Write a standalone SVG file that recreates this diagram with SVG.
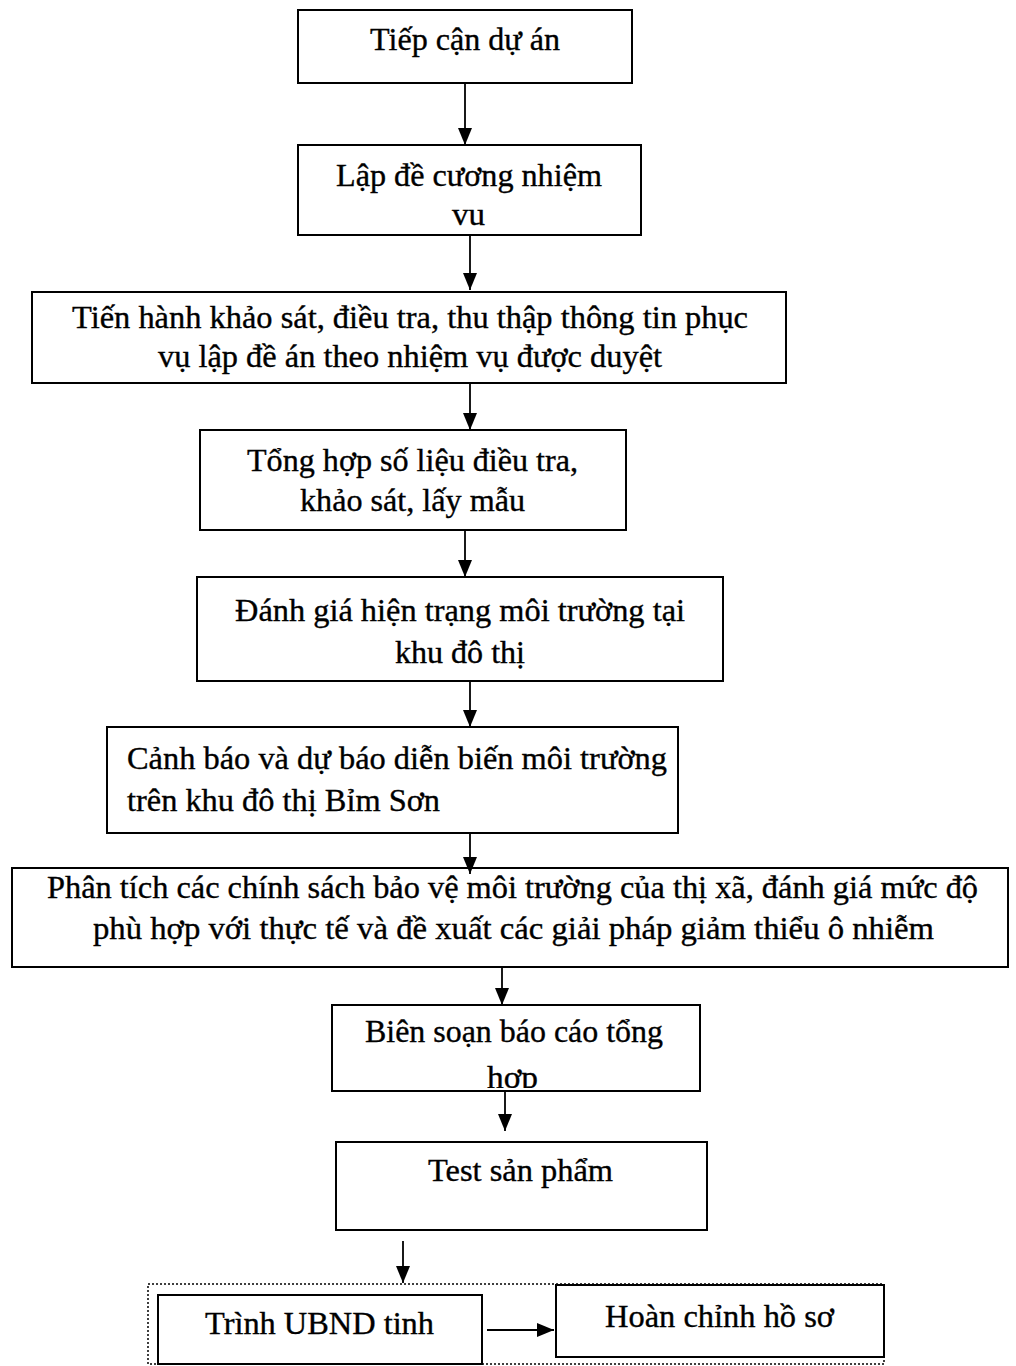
<svg xmlns="http://www.w3.org/2000/svg" width="1016" height="1366" viewBox="0 0 1016 1366">
<style>
.box{fill:#fff;stroke:#000;stroke-width:2}
.t{font-family:"Liberation Serif","DejaVu Serif",serif;font-size:31px;fill:#000;stroke:#000;stroke-width:0.35}
.con{stroke:#000;stroke-width:1.8;fill:none;marker-end:url(#ah)}
.dot{fill:none;stroke:#000;stroke-width:1.5;stroke-dasharray:2 2}
</style>
<defs>
<marker id="ah" viewBox="0 0 17 14" refX="17" refY="7" markerWidth="17" markerHeight="14" markerUnits="userSpaceOnUse" orient="auto">
<path d="M0,0 L17,7 L0,14 Z" fill="#000"/>
</marker>
<clipPath id="clip8"><rect x="333" y="1006" width="366" height="82"/></clipPath>
</defs>
<rect width="1016" height="1366" fill="#fff"/>
<rect id="group-frame" class="dot" x="148" y="1284" width="736" height="80"/>
<g id="n1"><rect class="box" x="298" y="10" width="334" height="73"/>
<text class="t" font-family="Liberation Serif, serif" x="370" y="50" textLength="190" lengthAdjust="spacingAndGlyphs">Tiếp cận dự án</text></g>
<g id="n2"><rect class="box" x="298" y="145" width="343" height="90"/>
<text class="t" font-family="Liberation Serif, serif" x="336" y="186" textLength="266" lengthAdjust="spacingAndGlyphs">Lập đề cương nhiệm</text>
<text class="t" font-family="Liberation Serif, serif" x="452" y="225" textLength="33" lengthAdjust="spacingAndGlyphs">vu</text></g>
<g id="n3"><rect class="box" x="32" y="292" width="754" height="91"/>
<text class="t" font-family="Liberation Serif, serif" x="72" y="328" textLength="676" lengthAdjust="spacingAndGlyphs">Tiến hành khảo sát, điều tra, thu thập thông tin phục</text>
<text class="t" font-family="Liberation Serif, serif" x="158" y="367" textLength="504" lengthAdjust="spacingAndGlyphs">vụ lập đề án theo nhiệm vụ được duyệt</text></g>
<g id="n4"><rect class="box" x="200" y="430" width="426" height="100"/>
<text class="t" font-family="Liberation Serif, serif" x="247" y="471" textLength="331" lengthAdjust="spacingAndGlyphs">Tổng hợp số liệu điều tra,</text>
<text class="t" font-family="Liberation Serif, serif" x="300" y="511" textLength="225" lengthAdjust="spacingAndGlyphs">khảo sát, lấy mẫu</text></g>
<g id="n5"><rect class="box" x="197" y="577" width="526" height="104"/>
<text class="t" font-family="Liberation Serif, serif" x="235" y="621" textLength="450" lengthAdjust="spacingAndGlyphs">Đánh giá hiện trạng môi trường tại</text>
<text class="t" font-family="Liberation Serif, serif" x="395" y="663" textLength="130" lengthAdjust="spacingAndGlyphs">khu đô thị</text></g>
<g id="n6"><rect class="box" x="107" y="727" width="571" height="106"/>
<text class="t" font-family="Liberation Serif, serif" x="127" y="769" textLength="540" lengthAdjust="spacingAndGlyphs">Cảnh báo và dự báo diễn biến môi trường</text>
<text class="t" font-family="Liberation Serif, serif" x="127" y="811" textLength="313" lengthAdjust="spacingAndGlyphs">trên khu đô thị Bỉm Sơn</text></g>
<g id="n7"><rect class="box" x="12" y="868" width="996" height="99"/>
<text class="t" font-family="Liberation Serif, serif" x="47" y="898" textLength="931" lengthAdjust="spacingAndGlyphs">Phân tích các chính sách bảo vệ môi trường của thị xã, đánh giá mức độ</text>
<text class="t" font-family="Liberation Serif, serif" x="93" y="939" textLength="841" lengthAdjust="spacingAndGlyphs">phù hợp với thực tế  và đề xuất các giải pháp giảm thiểu ô nhiễm</text></g>
<g id="n8"><rect class="box" x="332" y="1005" width="368" height="86"/>
<text class="t" font-family="Liberation Serif, serif" x="365" y="1042" textLength="298" lengthAdjust="spacingAndGlyphs">Biên soạn báo cáo tổng</text>
<text class="t" font-family="Liberation Serif, serif" x="487" y="1088" clip-path="url(#clip8)" textLength="51" lengthAdjust="spacingAndGlyphs">hợp</text></g>
<g id="n9"><rect class="box" x="336" y="1142" width="371" height="88"/>
<text class="t" font-family="Liberation Serif, serif" x="428" y="1181" textLength="185" lengthAdjust="spacingAndGlyphs">Test sản phẩm</text></g>
<g id="n10"><rect class="box" x="158" y="1295" width="324" height="69"/>
<text class="t" font-family="Liberation Serif, serif" x="205" y="1334" textLength="229" lengthAdjust="spacingAndGlyphs">Trình UBND tinh</text></g>
<g id="n11"><rect class="box" x="556" y="1285" width="328" height="72"/>
<text class="t" font-family="Liberation Serif, serif" x="605" y="1327" textLength="229" lengthAdjust="spacingAndGlyphs">Hoàn chỉnh hồ sơ</text></g>
<g id="connectors">
<line class="con" x1="465" y1="83" x2="465" y2="145"/>
<line class="con" x1="470" y1="235" x2="470" y2="290"/>
<line class="con" x1="470" y1="383" x2="470" y2="430"/>
<line class="con" x1="465" y1="530" x2="465" y2="577"/>
<line class="con" x1="470" y1="681" x2="470" y2="727"/>
<line class="con" x1="470" y1="833" x2="470" y2="874"/>
<line class="con" x1="502" y1="967" x2="502" y2="1005"/>
<line class="con" x1="505" y1="1091" x2="505" y2="1131"/>
<line class="con" x1="403" y1="1241" x2="403" y2="1283"/>
<line class="con" x1="487" y1="1330" x2="554" y2="1330"/>
</g>
</svg>
